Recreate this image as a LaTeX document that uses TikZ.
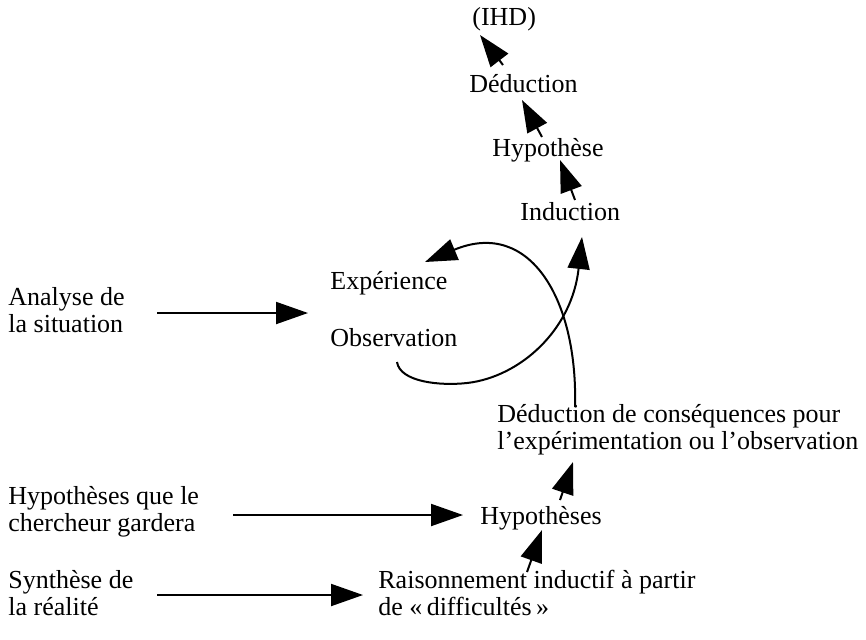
\documentclass[tikz,border=0pt]{standalone}
\usepackage{fontspec}
\setmainfont{Liberation Serif}
\usepackage{tikz}
\usetikzlibrary{arrows.meta}

\begin{document}
\begin{tikzpicture}[x=0.5pt,y=-0.5pt,
	lbl/.style={anchor=base west, inner sep=0pt, align=left, font=\fontsize{13}{13.5}\selectfont},
	arr/.style={line width=1pt, -{Triangle[length=16pt,width=11pt]}}]
\useasboundingbox (0,0) rectangle (866,639);
\node [lbl] (ihd) at (472,25) {(IHD)};
\node [lbl] (ded) at (469,92) {Déduction};
\node [lbl] (hyp) at (492,156) {Hypothèse};
\node [lbl] (ind) at (520,220) {Induction};
\node [lbl] (exp) at (330,289) {Expérience};
\node [lbl] (obs) at (330,346) {Observation};
\node [lbl] (ana) at (8,332) {Analyse de\\la situation};
\node [lbl] (dcons) at (497,449) {Déduction de conséquences pour\\l’expérimentation ou l’observation};
\node [lbl] (hyps) at (480,524) {Hypothèses};
\node [lbl] (hqc) at (8,531) {Hypothèses que le\\chercheur gardera};
\node [lbl] (syn) at (8,615) {Synthèse de\\la réalité};
\node [lbl] (rai) at (378,615) {Raisonnement inductif à partir\\de «\,difficultés\,»};

\draw [arr] ([shift={(149,-19)}]ana.base west) -- ([shift={(-22,24)}]exp.base west);
\draw [arr] ([shift={(225,-16)}]hqc.base west) -- ([shift={(-17,-9)}]hyps.base west);
\draw [arr] ([shift={(149,-20)}]syn.base west) -- ([shift={(-15,-20)}]rai.base west);
\draw [arr] ([shift={(149,-43)}]rai.base west) -- ([shift={(62,6)}]hyps.base west);
\draw [arr] ([shift={(80,-24)}]hyps.base west) -- ([shift={(76,13)}]dcons.base west);
\draw [arr] ([shift={(55,-20)}]ind.base west) -- ([shift={(68,4)}]hyp.base west);
\draw [arr] ([shift={(50,-19)}]hyp.base west) -- ([shift={(53,8)}]ded.base west);
\draw [arr] ([shift={(34,-27)}]ded.base west) -- ([shift={(8,10)}]ihd.base west);
\draw [arr] ([shift={(67,16)}]obs.base west) .. controls (400,382) and (440,386) .. (467,383)
	.. controls (520,377) and (572,330) .. ([shift={(62,17)}]ind.base west);
\draw [arr] ([shift={(78,-42)}]dcons.base west) .. controls (578,300) and (530,218) .. ([shift={(95,-27)}]exp.base west);
\end{tikzpicture}
\end{document}
